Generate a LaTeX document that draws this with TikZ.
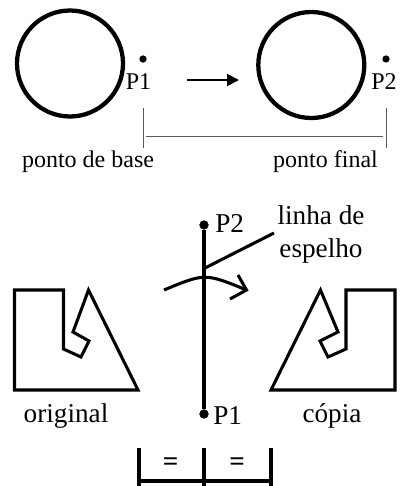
\documentclass[tikz,border=0pt]{standalone}
\usepackage{fontspec}
\setmainfont{Liberation Serif}
\usetikzlibrary{arrows.meta}
\tikzstyle{vertex}=[circle, draw, fill=black, inner sep=0pt, minimum size=6.5pt]
\tikzstyle{pmark}=[circle, fill=black, inner sep=0pt, minimum size=5.5pt]
\tikzstyle{ring}=[circle, draw, line width=3.2pt, inner sep=0pt, minimum size=79.5pt]
\tikzstyle{labelsty}=[font=\fontsize{18}{20}\selectfont, inner sep=0pt, anchor=base]
\tikzstyle{biglabel}=[labelsty, font=\fontsize{20.4}{22}\selectfont]
\tikzstyle{edge}=[line width=2.3pt]
\tikzstyle{thinedge}=[line width=0.7pt, black!65]
\tikzstyle{dedge}=[line width=1.4pt,-{Triangle[length=9pt,width=9pt]}]

\begin{document}
\begin{tikzpicture}[x=0.75pt,y=-0.75pt]
	\useasboundingbox (0,0) rectangle (402,486);

	% move
	\node[ring] (c1) at (70,63.5) {};
	\node[ring] (c2) at (311.3,65) {};
	\node[pmark] (m1) at (143,59) {};
	\node[pmark] (m2) at (386,59) {};
	\node[labelsty] (p1a) at (138.5,89.5) {P1};
	\node[labelsty] (p2a) at (384,89.5) {P2};
	\coordinate (a1) at (187,80);
	\coordinate (a2) at (239,80);
	\draw[dedge] (a1) -- (a2);

	\coordinate (t1) at (143,108);
	\coordinate (b1) at (143,148);
	\coordinate (t2) at (386,108);
	\coordinate (b2) at (386,148);
	\coordinate (h1) at (146,136);
	\coordinate (h2) at (383,136);
	\draw[thinedge] (t1) -- (b1);
	\draw[thinedge] (t2) -- (b2);
	\draw[thinedge] (h1) -- (h2);
	\node[labelsty] (base) at (88,167) {ponto de base};
	\node[labelsty] (final) at (325.5,167) {ponto final};

	% mirror
	\node[vertex] (v2) at (204,225) {};
	\node[vertex] (v1) at (204,414) {};
	\draw[edge] (v2) -- (v1);
	\node[biglabel,anchor=base west] (p2b) at (215,232) {P2};
	\node[biglabel,anchor=base west] (p1b) at (213,424) {P1};
	\node[biglabel] (linha) at (321,224) {linha de};
	\node[biglabel] (espelho) at (321,257) {espelho};
	\coordinate (l1) at (205,268);
	\coordinate (l2) at (274,233);
	\draw[edge] (l1) -- (l2);

	\coordinate (r1) at (164,290);
	\coordinate (r2) at (246.5,290);
	\coordinate (r3) at (238,275);
	\coordinate (r4) at (230,299);
	\draw[edge] (r1) .. controls (205,273) .. (r2);
	\draw[edge] (r3) -- (r2) -- (r4);

	\draw[edge] (14.5,290) -- (63.5,290) -- (63.5,349) -- (81,357) -- (89,341) -- (73,332) -- (88.5,290) -- (138,390) -- (14.5,390) -- cycle;
	\draw[edge] (395,290) -- (346,290) -- (346,349) -- (328,357) -- (320,341) -- (338,332) -- (320.5,290) -- (271,390) -- (395,390) -- cycle;
	\node[biglabel] (orig) at (66,422) {original};
	\node[biglabel] (copia) at (332,422) {cópia};

	% equal parts
	\coordinate (e1) at (139,448);
	\coordinate (e2) at (204,448);
	\coordinate (e3) at (271,448);
	\coordinate (f1) at (139,486);
	\coordinate (f2) at (204,486);
	\coordinate (f3) at (271,486);
	\coordinate (g1) at (139,481);
	\coordinate (g3) at (271,481);
	\draw[edge] (e1) -- (f1);
	\draw[edge] (e2) -- (f2);
	\draw[edge] (e3) -- (f3);
	\draw[edge] (g1) -- (g3);
	\node[biglabel,font=\fontsize{20.4}{22}\selectfont\bfseries] (eq1) at (170.5,470) {=};
	\node[biglabel,font=\fontsize{20.4}{22}\selectfont\bfseries] (eq2) at (237,470) {=};
\end{tikzpicture}
\end{document}
